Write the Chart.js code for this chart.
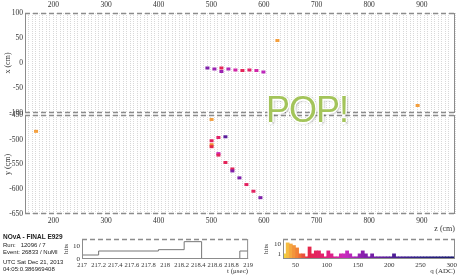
<!DOCTYPE html>
<html>
<head>
<meta charset="utf-8">
<script src="https://cdn.jsdelivr.net/npm/chart.js@4.4.0/dist/chart.umd.min.js"></script>
<style>
  body { margin: 0; width: 460px; height: 275px; position: relative; overflow: hidden; background: #fff; font-family: "Liberation Sans", Arial, sans-serif; }
  canvas { position: absolute; }
  .info { position: absolute; left: 3px; font-size: 6px; line-height: 7px; color: #222; white-space: pre; }
  #pop { position: absolute; left: 266px; top: 92px; font: 36px/36px "Liberation Sans", Arial, sans-serif; letter-spacing: -1px; color: #a3c45a;
         text-shadow: -1.5px 0 #fff, 1.5px 0 #fff, 0 -1.5px #fff, 0 1.5px #fff, 1px 1px 3px rgba(0,0,0,.55); }
</style>
</head>
<body>
<canvas id="xz" width="460" height="120" style="left:0;top:0"></canvas>
<canvas id="yz" width="460" height="130" style="left:0;top:105px"></canvas>
<canvas id="tHist" width="200" height="45" style="left:55px;top:230px"></canvas>
<canvas id="qHist" width="205" height="45" style="left:255px;top:230px"></canvas>

<div class="info" style="top:233px;font-weight:bold;font-size:6.5px">NOvA - FINAL E929</div>
<div class="info" style="top:242px">Run:   12096 / 7</div>
<div class="info" style="top:249px">Event: 26833 / NuMI</div>
<div class="info" style="top:259px">UTC Sat Dec 21, 2013</div>
<div class="info" style="top:266px">04:05:0.386969408</div>
<div id="pop">POP!</div>

<script>
// ---- detector views ----
const zRange = [146, 963];
const zTicks = [200, 300, 400, 500, 600, 700, 800, 900];

// top view: hit plane z (cm), cell x (cm), charge q (ADC)
const xzZ = [492.6, 505.9, 519.2, 519.2, 532.5, 545.8, 559.1, 572.4, 585.7, 599.0, 625.6, 892.0];
const xzX = [-10, -12, -10, -17, -12, -14, -15, -14, -15, -18, 45, -85];
const xzQ = [165, 150, 80, 150, 140, 120, 80, 90, 120, 135, 45, 45];

// side view: hit plane z (cm), cell y (cm), charge q (ADC)
const yzZ = [167, 500.5, 500.5, 500.5, 500.5, 513.5, 526.8, 513.5, 513.5, 526.8, 540.0, 540.0, 553.4, 566.7, 580.0, 593.3];
const yzY = [-483, -459, -502, -510, -514, -495.5, -494, -528, -531, -546, -559, -563, -577, -590.5, -604, -617];
const yzQ = [45, 45, 85, 50, 70, 90, 195, 130, 80, 80, 80, 165, 165, 85, 85, 165];

// ---- timing histogram ----
const tEdges = [217, 217.2, 217.92, 218.23, 218.44, 218.9, 219];
const tHits = [3, 6, 7, 13, 0, 6];

// ---- charge histogram (bin low edges, 5 ADC wide) ----
const qBins = [30, 35, 40, 45, 50, 55, 60, 65, 70, 75, 80, 85, 90, 95, 100, 105, 110, 115, 120, 125,
               130, 135, 140, 145, 150, 155, 160, 165, 170, 175, 180, 185, 190, 195, 200, 205, 210, 215, 220, 225,
               230, 235, 240, 245, 250, 255, 260, 265, 270, 275, 280, 285, 290, 295, 300];
const qHits = [1, 13, 10, 7, 4, 1, 1, 0, 5, 1, 2, 2, 1, 0, 2, 1, 0, 0, 1, 1,
               2, 1, 0, 0, 1, 2, 1, 0, 1, 0, 0, 0, 0, 0, 0, 1, 0, 0, 0, 0,
               0, 0, 0, 0, 0, 0, 0, 0, 0, 0, 0, 0, 0, 0, 0];
const qTicks = [50, 100, 150, 200, 250, 300];

const serif = '"Liberation Serif", "DejaVu Serif", serif';
const tickFont = { family: serif, size: 7.5 };
const ink = '#333';

// charge colour scale
const stops = [[30, [240, 222, 60]], [40, [246, 178, 66]], [55, [240, 120, 52]], [70, [228, 40, 72]],
               [100, [226, 30, 122]], [130, [200, 42, 190]], [160, [132, 32, 172]], [200, [84, 30, 152]],
               [250, [44, 30, 132]], [305, [26, 24, 110]]];
function palette(q) {
  for (let i = 1; i < stops.length; i++) {
    if (q <= stops[i][0]) {
      const [q0, c0] = stops[i - 1], [q1, c1] = stops[i];
      const f = Math.max(0, (q - q0) / (q1 - q0));
      return 'rgb(' + c0.map((c, k) => Math.round(c + (c1[k] - c) * f)).join(',') + ')';
    }
  }
  return 'rgb(26,24,110)';
}

// grey frame round each plot: solid sides, dashed top (and bottom)
const framePlugin = {
  id: 'frame',
  afterDatasetsDraw(chart, args, o) {
    const { ctx, chartArea: a } = chart;
    ctx.save();
    ctx.strokeStyle = '#8c8c8c';
    ctx.lineWidth = 1;
    ctx.beginPath();
    ctx.moveTo(a.left + .5, a.top); ctx.lineTo(a.left + .5, a.bottom);
    ctx.moveTo(a.right - .5, a.top); ctx.lineTo(a.right - .5, a.bottom);
    if (o.solidBottom) { ctx.moveTo(a.left, a.bottom - .5); ctx.lineTo(a.right, a.bottom - .5); }
    ctx.stroke();
    ctx.setLineDash([5, 3]);
    ctx.lineWidth = 1.3;
    ctx.beginPath();
    ctx.moveTo(a.left, a.top + .5); ctx.lineTo(a.right, a.top + .5);
    if (!o.solidBottom) { ctx.moveTo(a.left, a.bottom - .5); ctx.lineTo(a.right, a.bottom - .5); }
    ctx.stroke();
    ctx.restore();
  }
};

function viewChart(id, zs, vs, qs, vMin, vMax, vTitle, xPos, xHeight, pad, zTitle) {
  return new Chart(document.getElementById(id), {
    type: 'scatter',
    data: {
      datasets: [{
        data: zs.map((z, i) => ({ x: z, y: vs[i] })),
        pointStyle: 'line', pointRadius: 2, pointHoverRadius: 2, pointBorderWidth: 3,
        pointBorderColor: qs.map(palette), pointBackgroundColor: qs.map(palette)
      }]
    },
    options: {
      responsive: false, animation: false, events: [],
      layout: { padding: pad },
      plugins: { legend: { display: false }, tooltip: { enabled: false }, frame: {} },
      scales: {
        x: {
          type: 'linear', position: xPos, min: zRange[0], max: zRange[1],
          afterBuildTicks: s => { s.ticks = zTicks.map(v => ({ value: v })); },
          afterFit: s => { s.height = xHeight; },
          grid: { display: false, drawTicks: false }, border: { display: false },
          ticks: { font: tickFont, color: ink, padding: 3, maxRotation: 0, autoSkip: false },
          title: { display: !!zTitle, text: zTitle, align: 'end', font: { family: serif, size: 8 }, color: ink, padding: { top: 0, bottom: 1 } }
        },
        xCells: {
          axis: 'x', type: 'linear', position: xPos, min: zRange[0], max: zRange[1],
          afterFit: s => { s.height = 0; },
          ticks: { display: false, stepSize: 6.65 },
          grid: { color: '#d9d9d9', lineWidth: 1, drawTicks: false },
          border: { display: false, dash: [1, 1] }
        },
        y: {
          min: vMin, max: vMax,
          afterFit: s => { s.width = 25; },
          grid: { display: false, drawTicks: false }, border: { display: false },
          ticks: { stepSize: 50, font: tickFont, color: ink, padding: 2 },
          title: { display: true, text: vTitle, font: { family: serif, size: 8 }, color: ink, padding: { top: 3, bottom: 0 } }
        }
      }
    },
    plugins: [framePlugin]
  });
}

viewChart('xz', xzZ, xzX, xzQ, -100, 100, 'x (cm)', 'top', 13, { top: 0, right: 5, bottom: 7, left: 0 });
viewChart('yz', yzZ, yzY, yzQ, -650, -450, 'y (cm)', 'bottom', 21, { top: 10, right: 5, bottom: 0, left: 0 }, 'z (cm)');

const smallTitle = { family: serif, size: 7 };

// timing
new Chart(document.getElementById('tHist'), {
  type: 'line',
  data: {
    datasets: [{
      data: tEdges.map((t, i) => ({ x: t, y: i < tHits.length ? tHits[i] : tHits[tHits.length - 1] })),
      stepped: 'before', borderColor: '#777', borderWidth: 1, pointRadius: 0, fill: false
    }]
  },
  options: {
    responsive: false, animation: false, events: [],
    layout: { padding: { left: 4, right: 4, top: 9, bottom: 0 } },
    plugins: { legend: { display: false }, tooltip: { enabled: false }, frame: { solidBottom: true } },
    scales: {
      x: {
        type: 'linear', min: tEdges[0], max: tEdges[tEdges.length - 1],
        afterFit: s => { s.height = 16; },
        grid: { display: false, drawTicks: false }, border: { display: false },
        ticks: { stepSize: 0.2, font: { family: serif, size: 6.5 }, color: ink, padding: 2, maxRotation: 0, autoSkip: false,
                 callback: v => String(Number(v.toFixed(1))) },
        title: { display: true, text: 't (\u03bcsec)', align: 'end', font: smallTitle, color: ink, padding: 0 }
      },
      y: {
        min: 0, max: 15,
        afterBuildTicks: s => { s.ticks = [{ value: 0 }, { value: 10 }]; },
        afterFit: s => { s.width = 23; },
        grid: { display: false, drawTicks: false }, border: { display: false },
        ticks: { font: { family: serif, size: 7 }, color: ink, padding: 2 },
        title: { display: true, text: 'hits', font: smallTitle, color: ink, padding: { top: 3, bottom: 0 } }
      }
    }
  },
  plugins: [framePlugin]
});

// charge
const qCentres = qBins.map(q => q + 2.5);
new Chart(document.getElementById('qHist'), {
  type: 'bar',
  data: {
    datasets: [
      { data: qCentres.map((q, i) => ({ x: q, y: qHits[i] > 0 ? qHits[i] : null })),
        backgroundColor: qCentres.map(palette), grouped: false, barPercentage: 1, categoryPercentage: 1 },
      { data: qCentres.map(q => ({ x: q, y: 0.5 })),
        backgroundColor: qCentres.map(palette), grouped: false, barPercentage: 1, categoryPercentage: 1 }
    ]
  },
  options: {
    responsive: false, animation: false, events: [],
    layout: { padding: { left: 4, right: 5, top: 9, bottom: 0 } },
    plugins: { legend: { display: false }, tooltip: { enabled: false }, frame: { solidBottom: true } },
    scales: {
      x: {
        type: 'linear', min: 30, max: 305, offset: false,
        afterBuildTicks: s => { s.ticks = qTicks.map(v => ({ value: v })); },
        afterFit: s => { s.height = 16; },
        grid: { display: false, drawTicks: false }, border: { display: false },
        ticks: { font: { family: serif, size: 7 }, color: ink, padding: 2, maxRotation: 0, autoSkip: false },
        title: { display: true, text: 'q (ADC)', align: 'end', font: smallTitle, color: ink, padding: 0 }
      },
      y: {
        type: 'logarithmic', min: 0.32, max: 32,
        afterBuildTicks: s => { s.ticks = [{ value: 1 }, { value: 10 }]; },
        afterFit: s => { s.width = 24; },
        grid: { display: false, drawTicks: false }, border: { display: false },
        ticks: { font: { family: serif, size: 7 }, color: ink, padding: 2, callback: v => String(v) },
        title: { display: true, text: 'hits', font: smallTitle, color: ink, padding: { top: 3, bottom: 0 } }
      }
    }
  },
  plugins: [framePlugin]
});
</script>
</body>
</html>
